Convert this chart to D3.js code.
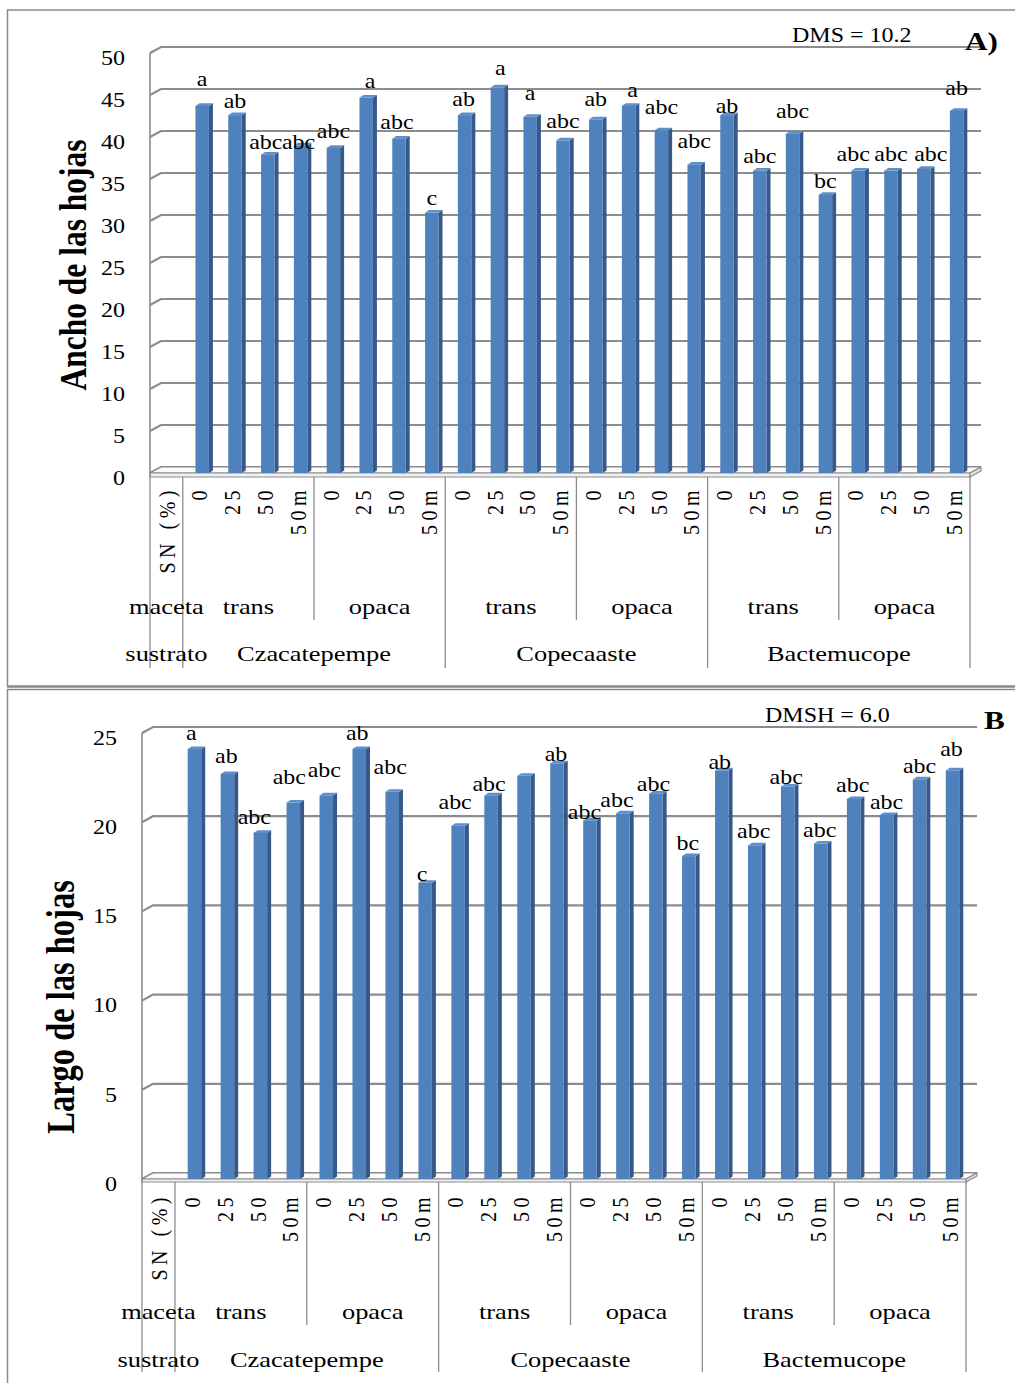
<!DOCTYPE html>
<html>
<head>
<meta charset="utf-8">
<script src="https://cdn.jsdelivr.net/npm/d3@7"></script>
<style>
  html, body { margin: 0; padding: 0; background: #fff; }
  svg { display: block; }
</style>
</head>
<body>
<svg id="chart" width="1015" height="1383"></svg>
<script>
// ---- Factor levels (multi-level category axis) ----
const sustratos = ["Czacatepempe", "Copecaaste", "Bactemucope"];
const macetas = ["trans", "opaca"];
const snNiveles = ["0", "25", "50", "50m"];
const encabezados = ["SN (%)", "maceta", "sustrato"];

// ---- Panel A: leaf width, in axis order (sustrato > maceta > SN) ----
const anchoHojas = [43.7, 42.6, 37.9, 39.0, 38.7, 44.7, 39.8, 31.0,
                    42.6, 45.9, 42.4, 39.6, 42.1, 43.7, 40.8, 36.7,
                    42.6, 36.0, 40.4, 33.1, 36.0, 36.0, 36.2, 43.1];
const anchoLetras = ["a", "ab", "abc", "abc", "abc", "a", "abc", "c",
                     "ab", "a", "a", "abc", "ab", "a", "abc", "abc",
                     "ab", "abc", "abc", "bc", "abc", "abc", "abc", "ab"];
const ticksAncho = [0, 5, 10, 15, 20, 25, 30, 35, 40, 45, 50];

// ---- Panel B: leaf length ----
const largoHojas = [24.1, 22.7, 19.4, 21.1, 21.5, 24.1, 21.7, 16.6,
                    19.8, 21.5, 22.6, 23.3, 20.1, 20.5, 21.6, 18.1,
                    22.9, 18.7, 22.0, 18.8, 21.3, 20.4, 22.4, 22.9];
const largoLetras = ["a", "ab", "abc", "abc", "abc", "ab", "abc", "c",
                     "abc", "abc", "", "ab", "abc", "abc", "abc", "bc",
                     "ab", "abc", "abc", "abc", "abc", "abc", "abc", "ab"];
const ticksLargo = [0, 5, 10, 15, 20, 25];

// ---- Hand placement of the significance letters: [dx, lift above bar] ----
const letrasPosA = [[0,19.5],[0,7],[-2,6],[-2,-4],[0,10],[4,9.5],[-2,10],[0,8],
                    [-1,9],[3,12.5],[0,17],[0,12],[0,13],[4,8.5],[0,16],[0,17],
                    [0,2],[0,8],[0,16],[0,7],[-5,10],[0,10],[7,8],[0,16]];
const letrasPosB = [[-3,9.2],[-1,10.6],[-6,8.7],[-4,19],[-2,18.3],[-2,9],[-2,17.4],[-3,2.2],
                    [-3,16.3],[-2,4],[0,0],[-1,2.4],[-5.5,1.6],[-6,6.7],[-2.5,2.4],[-1,5.7],
                    [-2,1.6],[-1,7.3],[-1.5,2.3],[-1,7],[-1,7.3],[0,6],[0,6.3],[-1,14]];

// Treatment list in axis order, plus the leading header column
const tratamientos = [];
sustratos.forEach(s => macetas.forEach(m => snNiveles.forEach(n => tratamientos.push({ s, m, n }))));
const claves = ["encabezado"].concat(tratamientos.map((t, i) => "t" + i));

const svg = d3.select("#chart");
svg.append("rect").attr("width", 1015).attr("height", 1383).attr("fill", "#fff");

const FONT = "'Liberation Serif','Times New Roman',serif";
const SX = 1.2;            // horizontal glyph stretch
const GRID = "#8c8c8c";

function texto(g, x, y, str, o = {}) {
  return g.append("text")
    .attr("transform", `translate(${x},${y}) scale(${SX},1)` + (o.rotate ? " rotate(-90)" : ""))
    .attr("font-family", FONT)
    .attr("font-size", o.size || 20)
    .attr("font-weight", o.bold ? "bold" : null)
    .attr("text-anchor", o.anchor || "middle")
    .attr("dominant-baseline", o.baseline || null)
    .attr("letter-spacing", o.ls || null)
    .attr("fill", "#000")
    .text(str);
}

function panel(cfg, valores, letras, letrasPos) {
  const g = svg.append("g");
  const x = d3.scaleBand().domain(claves).range([cfg.x0, cfg.x1]).padding(0);
  const y = d3.scaleLinear().domain([0, cfg.max]).range([cfg.yZero, cfg.yTop]);
  const bw = x.bandwidth();
  const D = cfg.depth;   // offset of back wall relative to front plane

  // back-wall gridlines with their slanted side-wall segment
  g.append("g").selectAll("path").data(cfg.ticks).join("path")
    .attr("d", v => `M${cfg.x0},${y(v)} L${cfg.x0 + D.dx},${y(v) + D.dy} L${cfg.x1 + D.dx},${y(v) + D.dy}`)
    .attr("fill", "none").attr("stroke", GRID).attr("stroke-width", 2.2);

  // floor slab
  const yb = y(0), fr = cfg.axisFront;
  g.append("path")
    .attr("d", `M${cfg.x0},${yb} L${cfg.x0 + D.dx},${yb + D.dy} L${cfg.x1 + D.dx},${yb + D.dy} L${cfg.x1},${yb} Z`)
    .attr("fill", "#fbfbfb").attr("stroke", GRID).attr("stroke-width", 1.2);
  g.append("path")
    .attr("d", `M${cfg.x0},${yb} L${cfg.x1},${yb} L${cfg.x1},${fr} L${cfg.x0},${fr} Z`)
    .attr("fill", "#f0f0f0").attr("stroke", GRID).attr("stroke-width", 1.2);
  g.append("path")
    .attr("d", `M${cfg.x1},${yb} L${cfg.x1 + D.dx},${yb + D.dy} L${cfg.x1 + D.dx},${yb + D.dy + (fr - yb)} L${cfg.x1},${fr} Z`)
    .attr("fill", "#e0e0e0").attr("stroke", GRID).attr("stroke-width", 1.2);

  // front vertical axis line
  g.append("line").attr("x1", cfg.x0).attr("x2", cfg.x0)
    .attr("y1", y(cfg.max)).attr("y2", fr)
    .attr("stroke", GRID).attr("stroke-width", 1.6);

  // value tick labels
  cfg.ticks.forEach(v => texto(g, cfg.x0 - 25, y(v) + 5, String(v),
    { anchor: "end", baseline: "central", size: 20 }));

  // 3-D columns
  const w = bw * 0.41, sdx = 4, sdy = -2.6;
  const bars = g.append("g");
  valores.forEach((v, i) => {
    const cx = x("t" + i) + bw / 2 + 3;
    const xl = cx - w / 2, xr = cx + w / 2;
    const yt = y(v), y0 = y(0);
    bars.append("path")   // side face
      .attr("d", `M${xr},${yt} L${xr + sdx},${yt + sdy} L${xr + sdx},${y0 + sdy} L${xr},${y0} Z`)
      .attr("fill", "#36598a");
    bars.append("path")   // top face
      .attr("d", `M${xl},${yt} L${xl + sdx},${yt + sdy} L${xr + sdx},${yt + sdy} L${xr},${yt} Z`)
      .attr("fill", "#5d8fcc");
    bars.append("rect")   // front face
      .attr("x", xl).attr("y", yt).attr("width", w).attr("height", y0 - yt)
      .attr("fill", "#4f81bd");
    if (letras[i]) {
      const [dx, lift] = letrasPos[i];
      texto(g, cx + dx, yt - lift, letras[i], { size: 20 });
    }
  });

  // category table below the floor
  const lineas = [[0, true], [1, true], [5, false], [9, true], [13, false], [17, true], [21, false], [25, true]];
  lineas.forEach(([k, largo]) => {
    const xx = cfg.x0 + k * bw;
    g.append("line").attr("x1", xx).attr("x2", xx)
      .attr("y1", fr).attr("y2", largo ? cfg.longEnd : cfg.shortEnd)
      .attr("stroke", GRID).attr("stroke-width", 1.3);
  });
  const cx0 = x("encabezado") + bw / 2;
  texto(g, cx0, cfg.labelTop, encabezados[0], { rotate: true, anchor: "end", baseline: "central", ls: 4.5 });
  tratamientos.forEach((t, i) => {
    texto(g, x("t" + i) + bw / 2, cfg.labelTop, t.n, { rotate: true, anchor: "end", baseline: "central", ls: 4.5 });
  });
  texto(g, cx0, cfg.macetaY, encabezados[1], { size: 22 });
  texto(g, cx0, cfg.sustratoY, encabezados[2], { size: 22 });
  sustratos.forEach((s, si) => {
    macetas.forEach((m, mi) => {
      const k = 1 + si * 8 + mi * 4;
      texto(g, cfg.x0 + (k + 2) * bw, cfg.macetaY, m, { size: 22 });
    });
    texto(g, cfg.x0 + (1 + si * 8 + 4) * bw, cfg.sustratoY, s, { size: 22 });
  });

  // axis title and annotations
  texto(g, cfg.titleX, cfg.titleY, cfg.title, { rotate: true, bold: true, size: cfg.titleSize });
  texto(g, cfg.dmsX, cfg.dmsY, cfg.dms, { anchor: "start", size: 20 });
  texto(g, cfg.tagX, cfg.tagY, cfg.tag, { anchor: "start", bold: true, size: 26 });
}

// panel frames
svg.append("path").attr("d", "M1016,10 L7.5,10 L7.5,687")
  .attr("fill", "none").attr("stroke", "#8a8a8a").attr("stroke-width", 1.5);
svg.append("line").attr("x1", 7).attr("x2", 1016).attr("y1", 686.5).attr("y2", 686.5)
  .attr("stroke", "#8a8a8a").attr("stroke-width", 2.5);
svg.append("path").attr("d", "M1016,689.5 L7.5,689.5 L7.5,1383")
  .attr("fill", "none").attr("stroke", "#8a8a8a").attr("stroke-width", 1.5);

panel({
  x0: 150, x1: 970, yTop: 53, yZero: 473, axisFront: 477, max: 50, ticks: ticksAncho,
  depth: { dx: 11, dy: -6 },
  labelTop: 486, macetaY: 614, sustratoY: 661, shortEnd: 620, longEnd: 668,
  title: "Ancho de las hojas", titleX: 86, titleY: 265, titleSize: 31.5,
  dms: "DMS = 10.2", dmsX: 792, dmsY: 42, tag: "A)", tagX: 965, tagY: 50
}, anchoHojas, anchoLetras, letrasPosA);

panel({
  x0: 142, x1: 966, yTop: 733, yZero: 1179, axisFront: 1182, max: 25, ticks: ticksLargo,
  depth: { dx: 11, dy: -6 },
  labelTop: 1193, macetaY: 1319, sustratoY: 1367, shortEnd: 1325, longEnd: 1372,
  title: "Largo de las hojas", titleX: 74, titleY: 1007, titleSize: 32.5,
  dms: "DMSH = 6.0", dmsX: 765, dmsY: 722, tag: "B", tagX: 984, tagY: 729
}, largoHojas, largoLetras, letrasPosB);
</script>
</body>
</html>
